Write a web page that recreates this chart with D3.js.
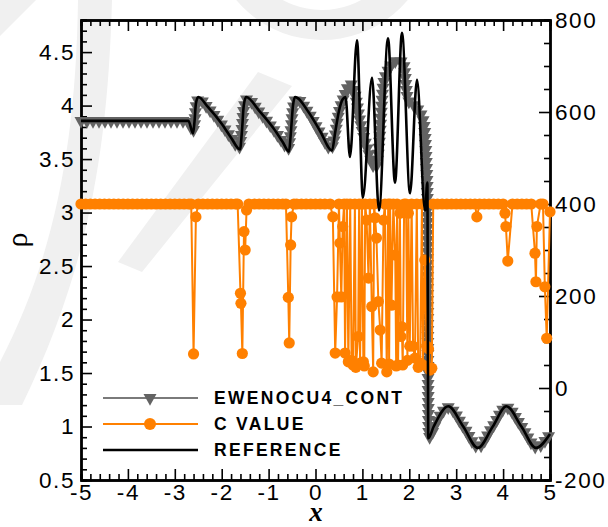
<!DOCTYPE html>
<html>
<head>
<meta charset="utf-8">
<script src="https://cdn.jsdelivr.net/npm/d3@7"></script>
<style>
  body { margin: 0; background: #fff; }
  svg { display: block; }
</style>
</head>
<body>
<svg id="chart" width="608" height="527"></svg>
<script>
// ---- axis ticks ----
const xMajor = [-5, -4, -3, -2, -1, 0, 1, 2, 3, 4, 5];
const rhoMajor = [0.5, 1, 1.5, 2, 2.5, 3, 3.5, 4, 4.5];
const cMajor = [-200, 0, 200, 400, 600, 800];

// ---- reference solution (density) ----
const refX = [-5, -2.71, -2.61, -2.58, -2.55, -2.50, -2.3, -2.0, -1.8, -1.61, -1.57, -1.53, -1.48,
  -1.2, -0.9, -0.7, -0.565, -0.53, -0.48, -0.437, -0.15, 0.1, 0.352, 0.42, 0.5, 0.58, 0.64,
  0.735, 0.885, 1.01, 1.205, 1.354, 1.546, 1.695, 1.844, 2.015, 2.164, 2.335, 2.385, 2.405,
  2.52, 2.83, 3.15, 3.46, 3.78, 4.07, 4.39, 4.70, 5.0];
const refRho = [3.857, 3.857, 3.74, 3.85, 4.02, 4.08, 3.99, 3.83, 3.70, 3.59, 3.75, 4.0, 4.08,
  3.95, 3.79, 3.66, 3.57, 3.72, 4.0, 4.08, 3.94, 3.76, 3.58, 3.75, 3.95, 4.06, 4.08,
  3.52, 4.61, 3.14, 4.26, 3.02, 4.63, 3.28, 4.68, 3.18, 4.24, 3.02, 3.28, 0.89,
  1.0, 1.19, 1.0, 0.80, 1.0, 1.19, 1.0, 0.80, 0.93];

// ---- EWENOCU4_CONT solution (density) ----
const ewenoX = [-5, -2.74, -2.69, -2.62, -2.585, -2.55, -2.49, -2.3, -2.0, -1.8, -1.63, -1.585,
  -1.53, -1.46, -1.2, -0.9, -0.7, -0.58, -0.54, -0.48, -0.41, -0.15, 0.1, 0.33, 0.4, 0.5, 0.6,
  0.75, 0.84, 0.95, 1.1, 1.28, 1.35, 1.45, 1.55, 1.75, 1.87, 1.97, 2.05, 2.2, 2.3, 2.36, 2.385,
  2.40, 2.42, 2.6, 2.83, 3.15, 3.47, 3.78, 4.07, 4.39, 4.71, 5.0];
const ewenoRho = [3.857, 3.857, 3.84, 3.76, 3.80, 3.98, 4.06, 3.98, 3.82, 3.70, 3.61, 3.70,
  3.96, 4.06, 3.94, 3.78, 3.66, 3.60, 3.70, 3.96, 4.06, 3.93, 3.74, 3.60, 3.68, 3.93, 4.07,
  4.20, 4.10, 3.85, 3.60, 3.42, 3.60, 4.20, 4.33, 4.42, 4.40, 4.05, 4.02, 3.95, 3.85, 3.5, 3.15,
  1.40, 0.9, 1.06, 1.18, 1.0, 0.81, 1.0, 1.18, 1.0, 0.81, 0.93];

// ---- C VALUE (right axis) ----
const cX = [-5.0, -4.9, -4.8, -4.7, -4.6, -4.5, -4.4, -4.3, -4.2, -4.1, -4.0, -3.9, -3.8, -3.7,
  -3.6, -3.5, -3.4, -3.3, -3.2, -3.1, -3.0, -2.9, -2.8, -2.7,
  -2.65, -2.60, -2.55, -2.50,
  -2.4, -2.3, -2.2, -2.1, -2.0, -1.9, -1.8, -1.7,
  -1.66, -1.60, -1.59, -1.56, -1.525, -1.50, -1.47, -1.42,
  -1.3, -1.2, -1.1, -1.0, -0.9, -0.8, -0.7,
  -0.63, -0.58, -0.56, -0.53, -0.51, -0.46,
  -0.4, -0.3, -0.2, -0.1, 0.0, 0.1, 0.2,
  0.31, 0.37, 0.42, 0.46, 0.50, 0.52, 0.55, 0.58, 0.61, 0.63, 0.67, 0.70, 0.74, 0.77, 0.80,
  0.84, 0.86, 0.91, 0.93, 0.95, 0.99, 1.02, 1.04, 1.06, 1.09, 1.13, 1.16, 1.20, 1.23, 1.25,
  1.27, 1.30, 1.34, 1.38, 1.41, 1.45, 1.48, 1.52, 1.55, 1.57, 1.59, 1.62, 1.66, 1.70, 1.72,
  1.74, 1.76, 1.80, 1.82, 1.84, 1.86, 1.89, 1.93, 1.96, 1.98, 2.01, 2.05, 2.08, 2.12, 2.16,
  2.19, 2.23, 2.27, 2.29, 2.33, 2.37, 2.41, 2.44, 2.48, 2.51,
  2.6, 2.7, 2.8, 2.9, 3.0, 3.1, 3.2, 3.3, 3.4,
  3.44, 3.5, 3.6, 3.7, 3.8, 3.9, 4.0,
  4.04, 4.06, 4.10, 4.2, 4.3, 4.4, 4.5, 4.6,
  4.68, 4.70, 4.72, 4.8, 4.85, 4.89, 4.93, 5.0];
const cVal = [400, 400, 400, 400, 400, 400, 400, 400, 400, 400, 400, 400, 400, 400,
  400, 400, 400, 400, 400, 400, 400, 400, 400, 400,
  400, 74, 372, 400,
  400, 400, 400, 400, 400, 400, 400, 400,
  400, 206, 184, 75, 340, 300, 387, 400,
  400, 400, 400, 400, 400, 400, 400,
  400, 197, 98, 311, 372, 400,
  400, 400, 400, 400, 400, 400, 400,
  400, 372, 76, 198, 400, 315, 198, 351, 400, 76, 400, 57, 400, 60, 50,
  400, 45, 112, 400, 54, 400, 57, 48, 400, 365, 239, 400, 177, 35, 400,
  370, 326, 188, 126, 54, 365, 400, 35, 400, 52, 400, 180, 400, 289, 48,
  400, 50, 380, 112, 133, 50, 400, 400, 60, 380, 91, 400, 91, 65, 400,
  45, 54, 400, 50, 278, 91, 85, 39, 43, 400,
  400, 400, 400, 400, 400, 400, 400, 400, 400,
  372, 400, 400, 400, 400, 400, 400,
  380, 351, 276, 400, 400, 400, 400, 400,
  293, 231, 351, 400, 400, 220, 108, 383];

// ---- layout & scales ----
const svg = d3.select("#chart");
const x = d3.scaleLinear().domain([-5, 5]).range([81, 550]);
const yL = d3.scaleLinear().domain([0.5, 4.8]).range([480, 20]);
const yR = d3.scaleLinear().domain([-200, 800]).range([480, 20]);

const ORANGE = "#ff8000";
const GREY_LINE = "#7a7a7a";
const GREY_MARK = "#636363";
const FONT = "'Liberation Sans', Arial, Helvetica, sans-serif";

// ---- faint background emblem ----
const bg = svg.append("g").attr("fill", "#f0f0f0").attr("stroke", "none");
bg.append("path").attr("d", "M0,0 L36,0 L0,36 Z");
bg.append("path").attr("d", "M78,0 L112,0 C108,150 88,270 22,405 L0,405 L0,362 C52,262 76,150 78,0 Z");
bg.append("path").attr("d", "M258,72 L292,86 L142,272 L118,262 Z");
bg.append("path").attr("d", d3.arc()({ innerRadius: 82, outerRadius: 112, startAngle: 1.75, endAngle: 4.55 }))
  .attr("transform", "translate(322,-72)");

// ---- axes (inward ticks, mirrored x ticks on top) ----
const minorOf = (lo, hi, step, majors) =>
  d3.range(lo, hi + step / 2, step).map(v => +v.toFixed(4)).filter(v => !majors.some(m => Math.abs(m - v) < 1e-6));
const xMinor = minorOf(-5, 5, 0.2, xMajor);
const rhoMinor = minorOf(0.5, 4.8, 0.1, rhoMajor);
const cMinor = minorOf(-200, 800, 50, cMajor);

function styleAxis(g, lsp) {
  g.selectAll("path.domain").attr("stroke", "#000").attr("stroke-width", 2.4);
  g.selectAll(".tick line").attr("stroke", "#000").attr("stroke-width", 1.6);
  g.selectAll(".tick text").attr("fill", "#000").style("font-family", FONT)
    .style("font-size", "22.5px").attr("letter-spacing", lsp);
}

const axes = svg.append("g");
// minor ticks
axes.append("g").attr("transform", "translate(0,480)")
  .call(d3.axisBottom(x).tickValues(xMinor).tickSize(-6).tickFormat("")).call(g => styleAxis(g, 0));
axes.append("g").attr("transform", "translate(0,20)")
  .call(d3.axisTop(x).tickValues(xMinor).tickSize(-6).tickFormat("")).call(g => styleAxis(g, 0));
axes.append("g").attr("transform", "translate(81,0)")
  .call(d3.axisLeft(yL).tickValues(rhoMinor).tickSize(-6).tickFormat("")).call(g => styleAxis(g, 0));
axes.append("g").attr("transform", "translate(550,0)")
  .call(d3.axisRight(yR).tickValues(cMinor).tickSize(-6).tickFormat("")).call(g => styleAxis(g, 0));
// major ticks + labels
axes.append("g").attr("transform", "translate(0,480)")
  .call(d3.axisBottom(x).tickValues(xMajor).tickSize(-11).tickSizeOuter(0).tickPadding(4)
    .tickFormat(d => String(d))).call(g => styleAxis(g, 1.6));
axes.append("g").attr("transform", "translate(0,20)")
  .call(d3.axisTop(x).tickValues(xMajor).tickSize(-11).tickSizeOuter(0).tickFormat("")).call(g => styleAxis(g, 0));
axes.append("g").attr("transform", "translate(81,0)")
  .call(d3.axisLeft(yL).tickValues(rhoMajor).tickSize(-11).tickSizeOuter(0).tickPadding(6)
    .tickFormat(d => String(d))).call(g => styleAxis(g, 1.6));
axes.append("g").attr("transform", "translate(550,0)")
  .call(d3.axisRight(yR).tickValues(cMajor).tickSize(-11).tickSizeOuter(0).tickPadding(5)
    .tickFormat(d => String(d))).call(g => styleAxis(g, 1.6));

// axis titles
svg.append("text").attr("x", 316).attr("y", 521).attr("text-anchor", "middle")
  .style("font-family", "'Liberation Serif', 'Times New Roman', serif")
  .style("font-size", "27px").style("font-style", "italic").style("font-weight", "bold")
  .text("x");
svg.append("text").attr("transform", "translate(27,240) rotate(-90)").attr("text-anchor", "middle")
  .style("font-family", "'Liberation Serif', 'Times New Roman', serif")
  .style("font-size", "30px").text("ρ");

// ---- series ----
const plot = svg.append("g");

// EWENOCU4_CONT: line with triangle symbols spaced evenly along the drawn curve
const ewenoPts = ewenoX.map((v, i) => [v, ewenoRho[i]]);
const ewenoLine = d3.line().x(d => x(d[0])).y(d => yL(d[1])).curve(d3.curveMonotoneX);
const ewenoPath = plot.append("path").attr("d", ewenoLine(ewenoPts))
  .attr("fill", "none").attr("stroke", GREY_LINE).attr("stroke-width", 2);
const tri = "M-6.5,-3.9L6.5,-3.9L0,7.8Z";
const node = ewenoPath.node();
const total = node.getTotalLength();
const symSpacing = 6;
const symPts = d3.range(0, total + 0.01, symSpacing).map(L => node.getPointAtLength(L));
plot.append("g").selectAll("path").data(symPts).join("path")
  .attr("d", tri).attr("transform", p => `translate(${p.x},${p.y})`).attr("fill", GREY_MARK);

// C VALUE on the right axis
const cPts = cX.map((v, i) => [v, cVal[i]]);
plot.append("path").attr("d", d3.line().x(d => x(d[0])).y(d => yR(d[1]))(cPts))
  .attr("fill", "none").attr("stroke", ORANGE).attr("stroke-width", 2);
plot.append("g").selectAll("circle").data(cPts).join("circle")
  .attr("cx", d => x(d[0])).attr("cy", d => yR(d[1])).attr("r", 5.6).attr("fill", ORANGE);

// reference solution
const refPts = refX.map((v, i) => [v, refRho[i]]);
plot.append("path")
  .attr("d", d3.line().x(d => x(d[0])).y(d => yL(d[1])).curve(d3.curveMonotoneX)(refPts))
  .attr("fill", "none").attr("stroke", "#000").attr("stroke-width", 2.6);

// ---- legend ----
const legend = svg.append("g");
const legendItems = ["EWENOCU4_CONT", "C VALUE", "REFERENCE"];
const legendY = [398, 424, 450];
legendItems.forEach((name, i) => {
  const y = legendY[i];
  const stroke = i === 0 ? GREY_LINE : i === 1 ? ORANGE : "#000";
  legend.append("line").attr("x1", 103).attr("x2", 198).attr("y1", y).attr("y2", y)
    .attr("stroke", stroke).attr("stroke-width", i === 2 ? 2.6 : 2);
  if (i === 0) legend.append("path").attr("d", tri).attr("transform", `translate(150,${y})`).attr("fill", GREY_MARK);
  if (i === 1) legend.append("circle").attr("cx", 150).attr("cy", y).attr("r", 6).attr("fill", ORANGE);
  legend.append("text").attr("x", 214).attr("y", y).attr("dy", "0.36em")
    .style("font-family", FONT).style("font-size", "17.5px").style("font-weight", "bold")
    .attr("letter-spacing", 2.3).text(name);
});
</script>
</body>
</html>
